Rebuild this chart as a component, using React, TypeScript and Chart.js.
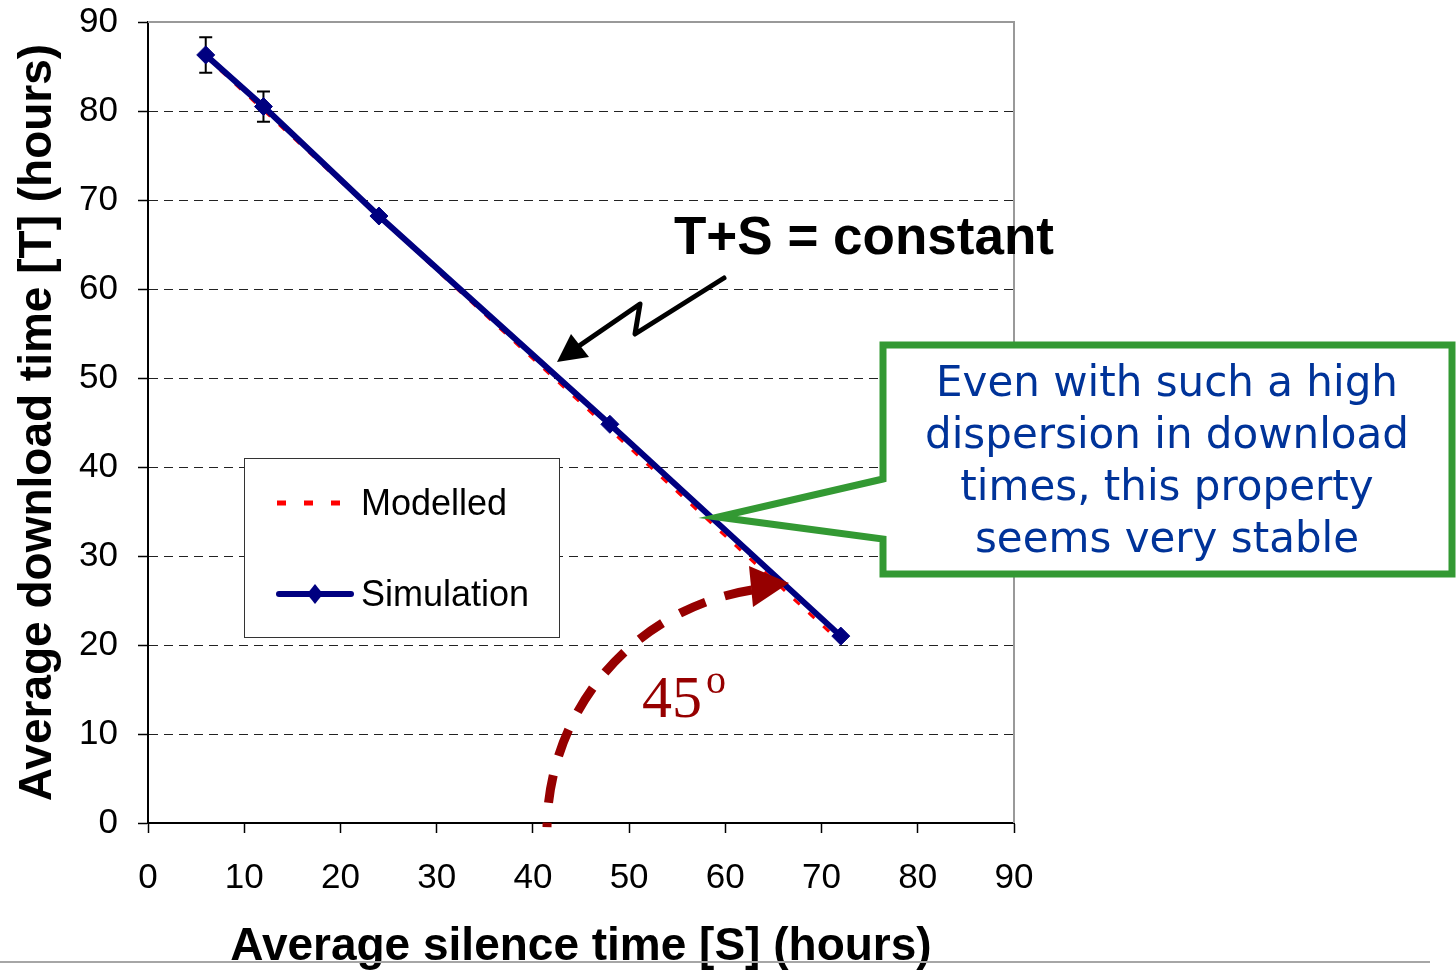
import React, { useEffect, useRef } from "react";
import { Chart, registerables } from "chart.js";

Chart.register(...registerables);

// ---- data ----
const simulationSilence = [6, 12, 24, 48, 72];
const simulationDownload = [86.3, 80.5, 68.2, 44.8, 21.0];
const simulationError = [2.0, 1.7, 0, 0, 0];
const modelledSilence = [6, 12, 24, 48, 72];
const modelledDownload = [86.1, 80.1, 68.1, 44.2, 20.3];
const axisMin = 0;
const axisMax = 90;
const axisStep = 10;
const xTitle = "Average silence time [S] (hours)";
const yTitle = "Average download time [T] (hours)";
const legendLabels = ["Modelled", "Simulation"];
const constantLabel = "T+S = constant";
const calloutLines = [
  "Even with such a high",
  "dispersion in download",
  "times, this property",
  "seems very stable",
];
const angleLabel = "45";
const angleSup = "o";

const SANS = "'Liberation Sans', Arial, sans-serif";
const NAVY = "#000080";
const RED = "#ff0000";
const DARKRED = "#960000";
const GREEN = "#339933";
const TEXTBLUE = "#003399";

const overlayPlugin = {
  id: "overlay",
  beforeDatasetsDraw(chart: any) {
    const { ctx, chartArea, scales } = chart;
    ctx.save();
    // plot frame top & right
    ctx.strokeStyle = "#999999";
    ctx.lineWidth = 2;
    ctx.beginPath();
    ctx.moveTo(chartArea.left, chartArea.top);
    ctx.lineTo(chartArea.right, chartArea.top);
    ctx.lineTo(chartArea.right, chartArea.bottom);
    ctx.stroke();
    // error bars
    ctx.strokeStyle = "#000";
    ctx.lineWidth = 2;
    simulationSilence.forEach((s, i) => {
      const e = simulationError[i];
      if (!e) return;
      const x = scales.x.getPixelForValue(s);
      const y1 = scales.y.getPixelForValue(simulationDownload[i] + e);
      const y2 = scales.y.getPixelForValue(simulationDownload[i] - e);
      ctx.beginPath();
      ctx.moveTo(x, y1);
      ctx.lineTo(x, y2);
      ctx.moveTo(x - 6.5, y1);
      ctx.lineTo(x + 6.5, y1);
      ctx.moveTo(x - 6.5, y2);
      ctx.lineTo(x + 6.5, y2);
      ctx.stroke();
    });
    ctx.restore();
  },
  afterDraw(chart: any) {
    const { ctx } = chart;
    ctx.save();

    // ---- legend box ----
    ctx.fillStyle = "#fff";
    ctx.fillRect(244, 458, 315, 179);
    ctx.strokeStyle = "#333";
    ctx.lineWidth = 1;
    ctx.strokeRect(244.5, 458.5, 315, 179);
    ctx.strokeStyle = RED;
    ctx.lineWidth = 5;
    ctx.setLineDash([9, 18]);
    ctx.beginPath();
    ctx.moveTo(277, 503);
    ctx.lineTo(340, 503);
    ctx.stroke();
    ctx.setLineDash([]);
    ctx.strokeStyle = NAVY;
    ctx.lineWidth = 6;
    ctx.lineCap = "round";
    ctx.beginPath();
    ctx.moveTo(279, 594);
    ctx.lineTo(351, 594);
    ctx.stroke();
    ctx.lineCap = "butt";
    ctx.fillStyle = NAVY;
    ctx.beginPath();
    ctx.moveTo(315, 584);
    ctx.lineTo(323, 594);
    ctx.lineTo(315, 604);
    ctx.lineTo(307, 594);
    ctx.closePath();
    ctx.fill();
    ctx.fillStyle = "#000";
    ctx.font = `36px ${SANS}`;
    ctx.textBaseline = "middle";
    ctx.textAlign = "left";
    ctx.fillText(legendLabels[0], 361, 505);
    ctx.fillText(legendLabels[1], 361, 596);

    // ---- T+S = constant ----
    ctx.font = `bold 53px ${SANS}`;
    ctx.textBaseline = "alphabetic";
    ctx.fillText(constantLabel, 674, 254);
    ctx.strokeStyle = "#000";
    ctx.lineWidth = 5;
    ctx.lineJoin = "round";
    ctx.lineCap = "round";
    ctx.beginPath();
    ctx.moveTo(724, 278);
    ctx.lineTo(635, 334);
    ctx.lineTo(640, 304);
    ctx.lineTo(576, 348);
    ctx.stroke();
    ctx.fillStyle = "#000";
    ctx.beginPath();
    ctx.moveTo(557, 362);
    ctx.lineTo(571, 334);
    ctx.lineTo(589, 357);
    ctx.closePath();
    ctx.fill();
    ctx.lineCap = "butt";
    ctx.lineJoin = "miter";

    // ---- 45 degree arc ----
    const cx = 790, cy = 830, r = 243;
    ctx.strokeStyle = DARKRED;
    ctx.lineWidth = 9;
    ctx.setLineDash([28, 20]);
    ctx.beginPath();
    ctx.arc(cx, cy, r, 4.555, Math.PI + 0.012, true);
    ctx.stroke();
    ctx.setLineDash([]);
    ctx.fillStyle = DARKRED;
    ctx.beginPath();
    ctx.moveTo(789, 583);
    ctx.lineTo(749, 566);
    ctx.lineTo(753, 607);
    ctx.closePath();
    ctx.fill();
    ctx.font = `60px 'Liberation Serif', 'Times New Roman', serif`;
    ctx.textBaseline = "alphabetic";
    ctx.fillText(angleLabel, 642, 717);
    ctx.font = `40px 'Liberation Serif', 'Times New Roman', serif`;
    ctx.fillText(angleSup, 706, 693);

    // ---- callout ----
    ctx.fillStyle = "#fff";
    ctx.strokeStyle = GREEN;
    ctx.lineWidth = 7;
    ctx.beginPath();
    ctx.moveTo(883, 479);
    ctx.lineTo(718, 517);
    ctx.lineTo(883, 539);
    ctx.lineTo(883, 574);
    ctx.lineTo(1452, 574);
    ctx.lineTo(1452, 345);
    ctx.lineTo(883, 345);
    ctx.closePath();
    ctx.fill();
    ctx.stroke();
    ctx.fillStyle = TEXTBLUE;
    ctx.font = `42px 'DejaVu Sans', Verdana, sans-serif`;
    ctx.textAlign = "center";
    ctx.textBaseline = "middle";
    calloutLines.forEach((t, i) => ctx.fillText(t, 1167, 385 + i * 52));

    // ---- slide bottom line ----
    ctx.strokeStyle = "#a6a6a6";
    ctx.lineWidth = 2;
    ctx.beginPath();
    ctx.moveTo(0, 962);
    ctx.lineTo(1430, 962);
    ctx.stroke();

    ctx.restore();
  },
};

export default function App() {
  const ref = useRef<HTMLCanvasElement | null>(null);
  useEffect(() => {
    if (!ref.current) return;
    const chart = new Chart(ref.current, {
      type: "scatter",
      data: {
        datasets: [
          {
            label: legendLabels[0],
            data: modelledSilence.map((s, i) => ({ x: s, y: modelledDownload[i] })),
            showLine: true,
            borderColor: RED,
            borderWidth: 3,
            borderDash: [8, 12],
            pointRadius: 0,
            order: 2,
          },
          {
            label: legendLabels[1],
            data: simulationSilence.map((s, i) => ({ x: s, y: simulationDownload[i] })),
            showLine: true,
            borderColor: NAVY,
            backgroundColor: NAVY,
            borderWidth: 6,
            pointStyle: "rectRot",
            pointRadius: 9,
            pointBorderWidth: 1,
            pointBorderColor: NAVY,
            pointBackgroundColor: NAVY,
            order: 1,
          },
        ],
      },
      options: {
        responsive: false,
        animation: false,
        layout: { padding: { top: 22, right: 442, left: 0, bottom: 0 } },
        plugins: { legend: { display: false }, tooltip: { enabled: false } },
        scales: {
          x: {
            type: "linear",
            min: axisMin,
            max: axisMax,
            afterFit: (s: any) => {
              s.height = 147;
              s.paddingLeft = 0;
              s.paddingRight = 0;
            },
            ticks: {
              stepSize: axisStep,
              color: "#000",
              padding: 24,
              font: { family: SANS, size: 35 },
              maxRotation: 0,
            },
            grid: {
              drawOnChartArea: false,
              drawTicks: true,
              tickLength: 10,
              tickColor: "#000",
              tickWidth: 1.5,
            },
            border: { color: "#000", width: 2 },
            title: {
              display: true,
              text: xTitle,
              color: "#000",
              font: { family: SANS, size: 46, weight: "bold" },
              padding: { top: 0, bottom: -5 },
            },
          },
          y: {
            type: "linear",
            min: axisMin,
            max: axisMax,
            afterFit: (s: any) => {
              s.width = 148;
              s.paddingTop = 0;
              s.paddingBottom = 0;
            },
            ticks: {
              stepSize: axisStep,
              color: "#000",
              padding: 20,
              font: { family: SANS, size: 35 },
            },
            grid: {
              color: (c: any) =>
                c.tick && (c.tick.value === axisMin || c.tick.value === axisMax)
                  ? "rgba(0,0,0,0)"
                  : "#222",
              lineWidth: 1,
              tickLength: 10,
              tickColor: "#000",
              tickWidth: 1.5,
              tickBorderDash: [],
            },
            border: { color: "#000", width: 2, dash: [9, 6] },
            title: {
              display: true,
              text: yTitle,
              color: "#000",
              font: { family: SANS, size: 46, weight: "bold" },
              padding: { top: 11, bottom: 0 },
            },
          },
        },
      },
      plugins: [overlayPlugin],
    } as any);
    return () => chart.destroy();
  }, []);
  return (
    <div style={{ position: "absolute", left: 0, top: 0, width: 1456, height: 970, background: "#fff" }}>
      <canvas ref={ref} width={1456} height={970} />
    </div>
  );
}
